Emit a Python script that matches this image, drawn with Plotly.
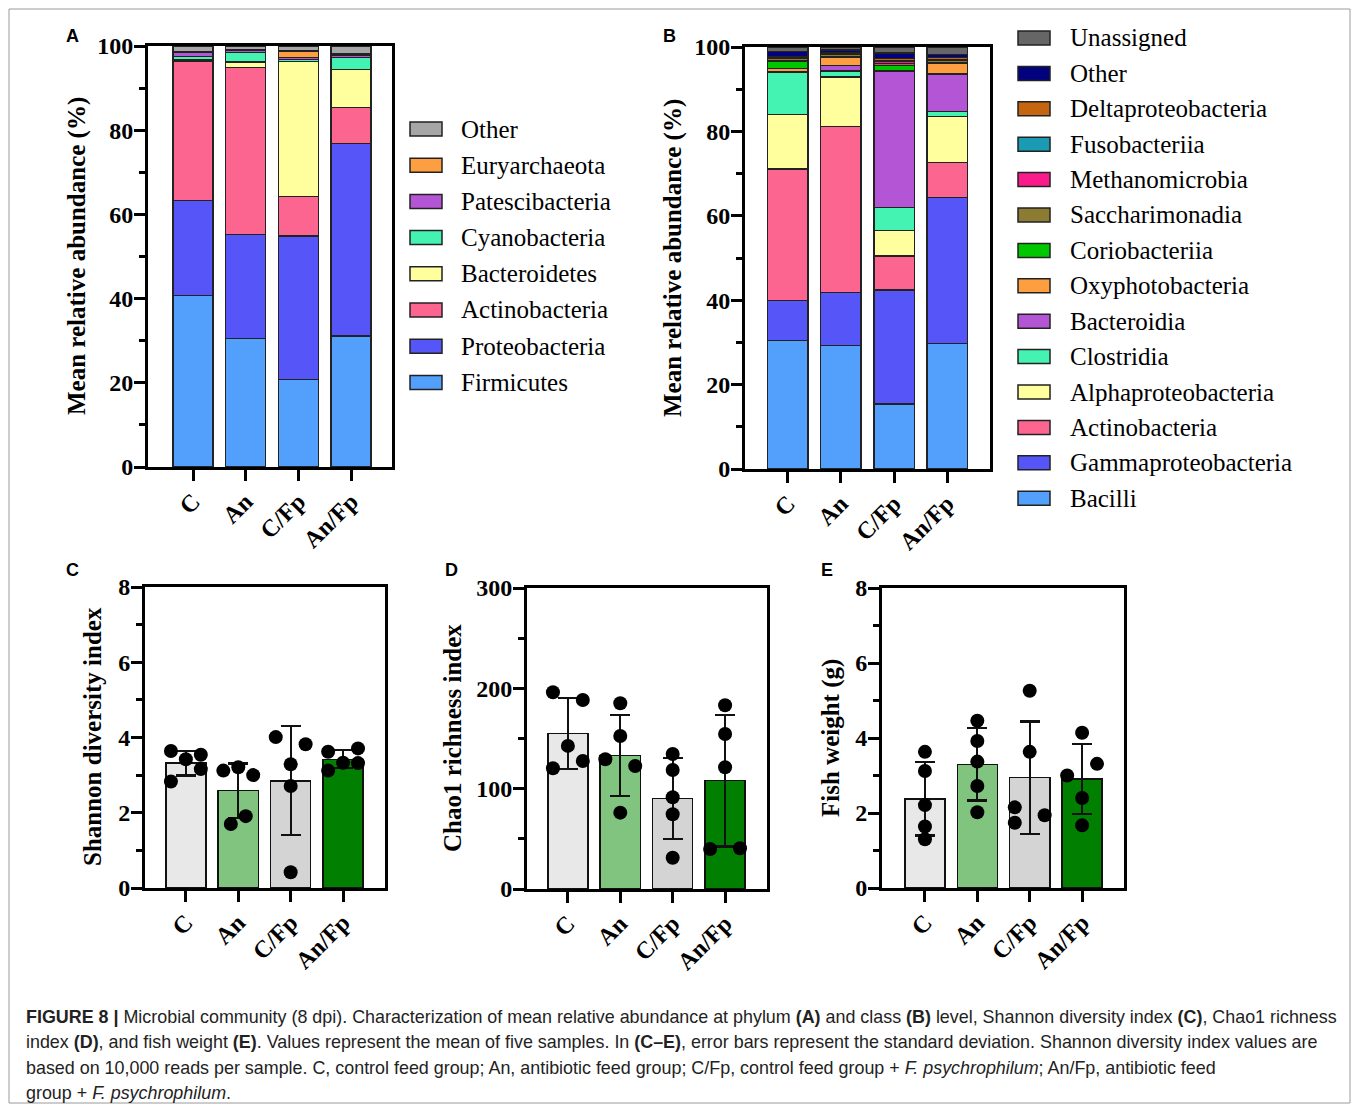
import numpy as np
import plotly.graph_objects as go

W, H = 1358, 1109

groups = ["C", "An", "C/Fp", "An/Fp"]

# ---------- Panel A: phylum level (stack order bottom -> top) ----------
phylum_names = ["Firmicutes", "Proteobacteria", "Actinobacteria", "Bacteroidetes",
                "Cyanobacteria", "Patescibacteria", "Euryarchaeota", "Other"]
firmicutes      = [40.7, 30.6, 20.8, 31.1]
proteobacteria  = [22.6, 24.7, 34.1, 45.8]
actinobacteria  = [33.0, 39.6, 9.3, 8.5]
bacteroidetes   = [0.4, 1.3, 32.2, 9.1]
cyanobacteria   = [0.8, 2.2, 0.4, 2.7]
patescibacteria = [0.9, 0.6, 0.5, 0.6]
euryarchaeota   = [0.2, 0.2, 1.5, 0.3]
phylum_other    = [1.4, 0.8, 1.2, 1.9]
phylum_values = [firmicutes, proteobacteria, actinobacteria, bacteroidetes,
                 cyanobacteria, patescibacteria, euryarchaeota, phylum_other]
phylum_colors = ["#529ffc", "#5656f8", "#fd6591", "#ffff9e",
                 "#44f2b1", "#b455d6", "#fd9f40", "#a6a6a6"]

# ---------- Panel B: class level (stack order bottom -> top) ----------
class_names = ["Bacilli", "Gammaproteobacteria", "Actinobacteria", "Alphaproteobacteria",
               "Clostridia", "Bacteroidia", "Oxyphotobacteria", "Coriobacteriia",
               "Saccharimonadia", "Methanomicrobia", "Fusobacteriia",
               "Deltaproteobacteria", "Other", "Unassigned"]
bacilli             = [30.4, 29.2, 15.4, 29.8]
gammaproteobacteria = [9.6, 12.7, 27.0, 34.5]
actinobacteria_cl   = [31.1, 39.2, 8.1, 8.3]
alphaproteobacteria = [12.9, 11.8, 6.1, 10.9]
clostridia          = [9.9, 1.4, 5.4, 1.2]
bacteroidia         = [0.3, 1.4, 32.3, 8.9]
oxyphotobacteria    = [0.7, 1.8, 0.2, 2.6]
coriobacteriia      = [1.8, 0.2, 1.2, 0.2]
saccharimonadia     = [0.6, 0.5, 0.4, 0.5]
methanomicrobia     = [0.1, 0.1, 0.5, 0.1]
fusobacteriia       = [0.1, 0.1, 0.1, 0.1]
deltaproteobacteria = [0.3, 0.3, 0.5, 0.4]
class_other         = [1.2, 0.6, 1.4, 0.8]
unassigned          = [1.0, 0.7, 1.4, 1.7]
class_values = [bacilli, gammaproteobacteria, actinobacteria_cl, alphaproteobacteria,
                clostridia, bacteroidia, oxyphotobacteria, coriobacteriia,
                saccharimonadia, methanomicrobia, fusobacteriia,
                deltaproteobacteria, class_other, unassigned]
class_colors = ["#529ffc", "#5656f8", "#fd6591", "#ffff9e", "#44f2b1", "#b455d6",
                "#fd9f40", "#00c800", "#8c7c33", "#f91b8c", "#1b9ab4",
                "#c5650f", "#02027f", "#666666"]

# ---------- Panels C-E: per-sample values ----------
shannon = [[3.64, 3.54, 3.42, 3.16, 2.83],
           [3.12, 3.21, 3.00, 1.91, 1.70],
           [4.01, 3.82, 3.29, 2.71, 0.42],
           [3.62, 3.71, 3.33, 3.32, 3.12]]
chao1 = [[196.1, 188.4, 142.6, 127.6, 120.3],
         [185.1, 152.5, 129.3, 122.6, 76.1],
         [134.6, 118.6, 91.4, 74.5, 31.2],
         [183.2, 154.5, 121.3, 39.9, 40.6]]
fish_weight = [[3.63, 3.12, 2.21, 1.64, 1.30],
               [4.46, 3.92, 3.37, 2.72, 2.02],
               [5.26, 3.63, 2.15, 1.94, 1.74],
               [4.14, 3.31, 3.00, 2.40, 1.67]]

# style: horizontal dot placement (in units of the dot spread)
shannon_spread = [[-1, 1, 0, 1, -1], [-1, 0, 1, 0.5, -0.5], [-1, 1, 0, 0, 0], [-1, 1, 0, 1, -1]]
chao1_spread = [[-1, 1, 0, 1, -1], [0, 0, -1, 1, 0], [0, 0, 0, 0, 0], [0, 0, 0, -1, 1]]
weight_spread = [[0, 0, 0, 0, 0], [0, 0, 0, 0, 0], [0, 0, -1, 1, -1], [0, 1, -1, 0, 0]]
DOT_SPREAD = 0.285
group_colors = ["#e8e8e8", "#80c480", "#d4d4d4", "#007f00"]

SERIF = "Liberation Serif"
SANS = "Liberation Sans"


def px_x(p):
    return p / W


def px_y(p):
    return 1 - p / H


fig = go.Figure()

xpos = list(range(len(groups)))

# stacked bars A
for name, vals, col in zip(phylum_names, phylum_values, phylum_colors):
    fig.add_trace(go.Bar(x=xpos, y=vals, name=name, marker=dict(color=col, line=dict(color="#222", width=1.3)),
                         width=0.76, xaxis="x", yaxis="y", showlegend=False))
# stacked bars B
for name, vals, col in zip(class_names, class_values, class_colors):
    fig.add_trace(go.Bar(x=xpos, y=vals, name=name, marker=dict(color=col, line=dict(color="#222", width=1.3)),
                         width=0.76, xaxis="x2", yaxis="y2", showlegend=False))

# C-E
for data, spread, ax in [(shannon, shannon_spread, "3"), (chao1, chao1_spread, "4"), (fish_weight, weight_spread, "5")]:
    arr = np.array(data)
    means = arr.mean(axis=1)
    sds = arr.std(axis=1, ddof=1)
    fig.add_trace(go.Bar(x=xpos, y=means, width=0.765,
                         marker=dict(color=group_colors, line=dict(color="#111", width=1.5)),
                         error_y=dict(type="data", array=sds, visible=True, color="#111", thickness=2.2, width=10),
                         xaxis="x" + ax, yaxis="y" + ax, showlegend=False))
    dx, dy = [], []
    for i, (vals, sp) in enumerate(zip(data, spread)):
        for v, s in zip(vals, sp):
            dx.append(i + s * DOT_SPREAD)
            dy.append(v)
    fig.add_trace(go.Scatter(x=dx, y=dy, mode="markers", marker=dict(color="#000", size=14),
                             xaxis="x" + ax, yaxis="y" + ax, showlegend=False))

tickfont = dict(family=SERIF, size=24, color="#000", weight="bold")


def xaxis(dom, rng, anchor):
    return dict(domain=[px_x(dom[0]), px_x(dom[1])], range=rng, anchor=anchor, automargin=False,
                tickvals=xpos, ticktext=groups, tickangle=-45, tickfont=tickfont, ticklabelstandoff=-3,
                showline=True, linecolor="#000", linewidth=3, mirror=True,
                ticks="outside", ticklen=11, tickwidth=3, tickcolor="#000",
                showgrid=False, zeroline=False, fixedrange=True)


def yaxis(dom, rng, dtick, minor, anchor):
    return dict(domain=[px_y(dom[1]), px_y(dom[0])], range=rng, anchor=anchor, automargin=False,
                dtick=dtick, tick0=0, tickfont=tickfont, ticklabelstandoff=-4,
                showline=True, linecolor="#000", linewidth=3, mirror=True,
                ticks="outside", ticklen=11, tickwidth=3, tickcolor="#000",
                minor=dict(dtick=minor, tick0=0, ticks="outside", ticklen=6, tickwidth=3, tickcolor="#000", showgrid=False),
                showgrid=False, zeroline=False, fixedrange=True)


fig.update_layout(
    template="none",
    width=W, height=H, margin=dict(l=0, r=0, t=0, b=0, pad=0, autoexpand=False),
    paper_bgcolor="#fff", plot_bgcolor="#fff", barmode="stack", bargap=0,
    showlegend=False,
    xaxis=xaxis((148, 392), [-0.854, 3.776], "y"),
    yaxis=yaxis((46, 467), [0, 100], 20, 10, "x"),
    xaxis2=xaxis((745, 990), [-0.81, 3.81], "y2"),
    yaxis2=yaxis((47, 469), [0, 100], 20, 10, "x2"),
    xaxis3=xaxis((145, 385), [-0.78, 3.80], "y3"),
    yaxis3=yaxis((587, 888), [0, 8], 2, 1, "x3"),
    xaxis4=xaxis((527, 767), [-0.78, 3.80], "y4"),
    yaxis4=yaxis((588, 889), [0, 300], 100, 50, "x4"),
    xaxis5=xaxis((882, 1124), [-0.82, 3.80], "y5"),
    yaxis5=yaxis((588, 888), [0, 8], 2, 1, "x5"),
)

ann = []
shapes = []
titlefont = dict(family=SERIF, size=25, color="#000", weight="bold")
for text, x, y in [("Mean relative abundance (%)", 77, 256), ("Mean relative abundance (%)", 673, 258),
                   ("Shannon diversity index", 92, 737), ("Chao1 richness index", 452, 738),
                   ("Fish weight (g)", 831, 738)]:
    ann.append(dict(text=text, x=px_x(x), y=px_y(y), xref="paper", yref="paper", showarrow=False,
                    textangle=-90, font=titlefont, xanchor="center", yanchor="middle"))

for text, x, y in [("A", 72, 36), ("B", 669, 36), ("C", 72, 570), ("D", 451, 570), ("E", 827, 570)]:
    ann.append(dict(text=text, x=px_x(x), y=px_y(y), xref="paper", yref="paper", showarrow=False,
                    font=dict(family=SANS, size=18, color="#000", weight="bold"), xanchor="center", yanchor="middle"))

# manual legends (top of stack first)
legfont = dict(family=SERIF, size=25, color="#000")
for k, (name, col) in enumerate(zip(phylum_names[::-1], phylum_colors[::-1])):
    yc = 129 + k * 36.2
    shapes.append(dict(type="rect", xref="paper", yref="paper", x0=px_x(410), x1=px_x(442),
                       y0=px_y(yc - 7), y1=px_y(yc + 7), fillcolor=col, line=dict(color="#222", width=1.5)))
    ann.append(dict(text=name, x=px_x(459), y=px_y(yc), xref="paper", yref="paper", showarrow=False,
                    font=legfont, xanchor="left", yanchor="middle"))
for k, (name, col) in enumerate(zip(class_names[::-1], class_colors[::-1])):
    yc = 38 + k * 35.4
    shapes.append(dict(type="rect", xref="paper", yref="paper", x0=px_x(1018), x1=px_x(1050),
                       y0=px_y(yc - 7), y1=px_y(yc + 7), fillcolor=col, line=dict(color="#222", width=1.5)))
    ann.append(dict(text=name, x=px_x(1068), y=px_y(yc), xref="paper", yref="paper", showarrow=False,
                    font=legfont, xanchor="left", yanchor="middle"))

caption = [
    "<b>FIGURE 8 |</b> Microbial community (8 dpi). Characterization of mean relative abundance at phylum <b>(A)</b> and class <b>(B)</b> level, Shannon diversity index <b>(C)</b>, Chao1 richness",
    "index <b>(D)</b>, and fish weight <b>(E)</b>. Values represent the mean of five samples. In <b>(C–E)</b>, error bars represent the standard deviation. Shannon diversity index values are",
    "based on 10,000 reads per sample. C, control feed group; An, antibiotic feed group; C/Fp, control feed group + <i>F. psychrophilum</i>; An/Fp, antibiotic feed",
    "group + <i>F. psychrophilum</i>.",
]
for k, line in enumerate(caption):
    ann.append(dict(text=line, x=px_x(24), y=px_y(1017 + k * 25.4), xref="paper", yref="paper", showarrow=False,
                    font=dict(family=SANS, size=17.9, color="#222"), xanchor="left", yanchor="middle"))

shapes.append(dict(type="rect", xref="paper", yref="paper", x0=px_x(9), x1=px_x(1350), y0=px_y(1103), y1=px_y(9),
                   line=dict(color="#9a9a9a", width=1), fillcolor="rgba(0,0,0,0)", layer="below"))

fig.update_layout(annotations=ann, shapes=shapes)
fig.write_html(
    "out.html",
    config={"displayModeBar": False, "staticPlot": True},
    post_script="document.documentElement.style.margin='0';document.body.style.margin='0';"
                "document.documentElement.style.overflow='hidden';document.body.style.overflow='hidden';"
                "var d=document.getElementById('{plot_id}');d.style.position='fixed';d.style.top='0px';d.style.left='0px';",
)
